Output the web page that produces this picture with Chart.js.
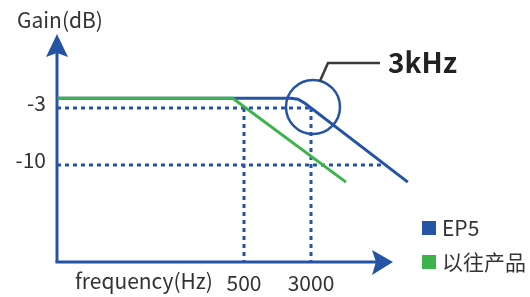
<!DOCTYPE html>
<html>
<head>
<meta charset="utf-8">
<script src="https://cdn.jsdelivr.net/npm/chart.js@4/dist/chart.umd.min.js"></script>
<style>
html,body{margin:0;padding:0;background:#fff;}
#wrap{width:530px;height:297px;position:relative;}
</style>
</head>
<body>
<div id="wrap"><canvas id="c" width="530" height="297"></canvas></div>
<script>
// ---- data (schematic frequency response, log frequency axis) ----
const ep5Freq   = [3.4, 1760, 2120, 2550, 40000];
const ep5Gain   = [-1.8, -1.8, -1.93, -2.42, -12.1];
const prevFreq  = [3.4, 370, 7650];
const prevGain  = [-1.8, -1.8, -12.1];
const cutoffFreqs = [500, 3000];      // x tick labels / vertical guides
const levelGains  = [-3, -10];        // y tick labels / horizontal guides
const levelGuideEnd = [3000, 20500];  // where each horizontal guide stops
const seriesNames = ['EP5', '以往产品'];
const calloutText = '3kHz';

const BLUE = '#2554a5';
const GREEN = '#3cb44b';
const TXT = '#333333';
const X_MIN = 3.365, X_MAX = 44700, Y_MIN = -21.91, Y_MAX = 4.12;

Chart.defaults.font.family = "'Noto Sans CJK SC','Noto Sans',sans-serif";
Chart.defaults.color = TXT;

const pts = (xs, ys) => xs.map((x, i) => ({x, y: ys[i]}));

const guideSets = [];
levelGains.forEach((g, i) => guideSets.push({
  data: [{x: X_MIN, y: g}, {x: levelGuideEnd[i], y: g}]
}));
cutoffFreqs.forEach(f => guideSets.push({
  data: [{x: f, y: levelGains[0]}, {x: f, y: Y_MIN}]
}));

const datasets = [
  {label: seriesNames[1], data: pts(prevFreq, prevGain), borderColor: GREEN, borderWidth: 3, order: 0},
  {label: seriesNames[0], data: pts(ep5Freq, ep5Gain), borderColor: BLUE, borderWidth: 3, order: 1},
  ...guideSets.map(g => ({label: 'guide', data: g.data, borderColor: BLUE, borderWidth: 3,
    borderDash: [4, 4], order: 2}))
].map(d => Object.assign({pointRadius: 0, tension: 0, fill: false, clip: false, borderCapStyle: 'butt'}, d));

const decor = {
  id: 'decor',
  beforeDatasetsDraw(chart) {
    const ctx = chart.ctx, a = chart.chartArea;
    ctx.save();
    ctx.strokeStyle = BLUE; ctx.fillStyle = BLUE; ctx.lineWidth = 3;
    const ox = a.left, oy = a.bottom;
    ctx.beginPath(); ctx.moveTo(ox, oy); ctx.lineTo(ox, 52); ctx.stroke();
    ctx.beginPath(); ctx.moveTo(ox - 1.5, oy); ctx.lineTo(378, oy); ctx.stroke();
    // y arrow
    ctx.beginPath(); ctx.moveTo(ox, 34); ctx.lineTo(ox + 11, 57); ctx.lineTo(ox, 53); ctx.lineTo(ox - 11, 57); ctx.closePath(); ctx.fill();
    // x arrow
    ctx.beginPath(); ctx.moveTo(393, oy); ctx.lineTo(372, oy - 12); ctx.lineTo(376, oy); ctx.lineTo(372, oy + 13); ctx.closePath(); ctx.fill();
    ctx.restore();
  },
  afterDraw(chart) {
    const ctx = chart.ctx, xs = chart.scales.x, ys = chart.scales.y;
    ctx.save();
    // circle around 3kHz / -3dB
    const cx = xs.getPixelForValue(cutoffFreqs[1]) + 2, cy = ys.getPixelForValue(levelGains[0]) - 1;
    ctx.strokeStyle = BLUE; ctx.lineWidth = 2.5;
    ctx.beginPath(); ctx.arc(cx, cy, 27, 0, Math.PI * 2); ctx.stroke();
    // callout
    ctx.strokeStyle = '#3a3a3a'; ctx.lineWidth = 2.5;
    ctx.beginPath(); ctx.moveTo(cx + 7, cy - 26); ctx.lineTo(cx + 15, cy - 44); ctx.lineTo(cx + 67, cy - 44); ctx.stroke();
    ctx.fillStyle = '#222';
    ctx.font = "bold 28px 'Noto Sans CJK SC','Noto Sans',sans-serif";
    ctx.textBaseline = 'middle'; ctx.textAlign = 'left';
    ctx.fillText(calloutText, 388, 62);
    // axis titles
    ctx.fillStyle = TXT;
    ctx.font = "21px 'Noto Sans CJK SC','Noto Sans',sans-serif";
    ctx.fillText('Gain(dB)', 17, 20);
    ctx.fillText('frequency(Hz)', 75, 281);
    // legend
    const legend = [{c: BLUE, t: seriesNames[0], y: 228}, {c: GREEN, t: seriesNames[1], y: 262}];
    legend.forEach(l => {
      ctx.fillStyle = l.c; ctx.fillRect(422, l.y - 7, 14, 14);
      ctx.fillStyle = TXT; ctx.fillText(l.t, 442, l.y);
    });
    ctx.restore();
  }
};

new Chart(document.getElementById('c'), {
  type: 'line',
  data: {datasets},
  options: {
    responsive: false, devicePixelRatio: 1, animation: false,
    layout: {padding: {left: 0, top: 50, right: 118, bottom: 0}},
    plugins: {legend: {display: false}, tooltip: {enabled: false}},
    scales: {
      x: {
        type: 'logarithmic', min: X_MIN, max: X_MAX,
        grid: {display: false, drawTicks: false}, border: {display: false},
        afterBuildTicks: s => { s.ticks = cutoffFreqs.map(v => ({value: v})); },
        afterFit: s => { s.height = 35; },
        ticks: {callback: v => String(v), font: {size: 21}, color: TXT, padding: 8, maxRotation: 0, autoSkip: false}
      },
      y: {
        type: 'linear', min: Y_MIN, max: Y_MAX,
        grid: {display: false, drawTicks: false}, border: {display: false},
        afterBuildTicks: s => { s.ticks = levelGains.map(v => ({value: v})); },
        afterFit: s => { s.width = 57; },
        ticks: {callback: v => String(v), font: {size: 21}, color: TXT, padding: 11, labelOffset: -5}
      }
    }
  },
  plugins: [decor]
});
</script>
</body>
</html>
